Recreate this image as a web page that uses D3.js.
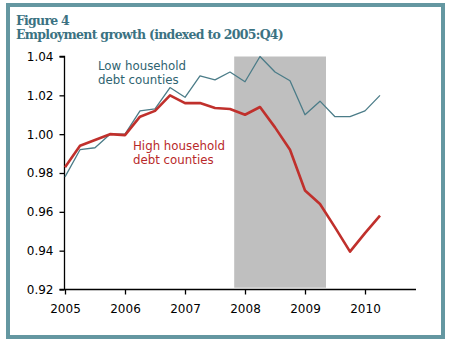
<!DOCTYPE html>
<html><head><meta charset="utf-8">
<script src="https://cdn.jsdelivr.net/npm/d3@7"></script>
<style>body{margin:0;background:#fff}svg{display:block}</style>
</head><body>
<svg id="c" width="450" height="344"></svg>
<script>
const quarters = [2005, 2005.25, 2005.5, 2005.75, 2006, 2006.25, 2006.5, 2006.75, 2007, 2007.25, 2007.5, 2007.75,
  2008, 2008.25, 2008.5, 2008.75, 2009, 2009.25, 2009.5, 2009.75, 2010, 2010.25];
const lowDebt = [0.978, 0.992, 0.993, 1.000, 1.000, 1.012, 1.013, 1.024, 1.019, 1.030, 1.028, 1.032,
  1.027, 1.040, 1.032, 1.0275, 1.010, 1.017, 1.009, 1.009, 1.012, 1.020];
const highDebt = [0.983, 0.994, 0.997, 1.000, 0.9995, 1.009, 1.012, 1.020, 1.016, 1.016, 1.0135, 1.013,
  1.010, 1.014, 1.0035, 0.992, 0.971, 0.964, 0.952, 0.9395, 0.949, 0.958];
const recession = [2007.82, 2009.35];
const yTicks = [0.92, 0.94, 0.96, 0.98, 1.00, 1.02, 1.04];
const xTicks = [2005, 2006, 2007, 2008, 2009, 2010];
const titleLines = ["Figure 4", "Employment growth (indexed to 2005:Q4)"];
const seriesLabels = {low: ["Low household", "debt counties"], high: ["High household", "debt counties"]};

const svg = d3.select("#c");
const x = d3.scaleLinear().domain([2005, 2010.85]).range([65, 416]);
const y = d3.scaleLinear().domain([0.92, 1.04]).range([289.5, 56.5]);

// frame
svg.append("rect").attr("x", 8).attr("y", 5).attr("width", 435).attr("height", 332)
  .attr("fill", "#fff").attr("stroke", "#6497a1").attr("stroke-width", 4);

// title
const tcol = "#3b7282";
const t1 = svg.append("text").attr("x", 16).attr("y", 25).text(titleLines[0])
  .attr("font-family", "DejaVu Serif").attr("font-weight", "bold").attr("font-size", 12.5).attr("fill", tcol);
const t2 = svg.append("text").attr("x", 16).attr("y", 39).text(titleLines[1])
  .attr("font-family", "DejaVu Serif").attr("font-weight", "bold").attr("font-size", 12.5).attr("fill", tcol);
function fit(sel, w) {
  const n = sel.text().length;
  const l = sel.node().getComputedTextLength();
  sel.attr("letter-spacing", (w - l) / n);
}
fit(t1, 53); fit(t2, 267);

// recession shading
svg.append("rect").attr("x", x(recession[0])).attr("width", x(recession[1]) - x(recession[0]))
  .attr("y", y(1.04)).attr("height", y(0.92) - y(1.04) - 1.8).attr("fill", "#bfbfbf");

// axes
const yAxis = svg.append("g").attr("transform", "translate(64.5,0)")
  .call(d3.axisLeft(y).tickValues(yTicks).tickFormat(d3.format(".2f")).tickSize(5).tickPadding(6));
const xAxis = svg.append("g").attr("transform", "translate(0,289.5)")
  .call(d3.axisBottom(x).tickValues(xTicks).tickFormat(d3.format("d")).tickSize(5).tickPadding(10));
[yAxis, xAxis].forEach(g => {
  g.select(".domain").attr("stroke", "#000").attr("stroke-width", 1.3);
  g.selectAll(".tick line").attr("stroke", "#000").attr("stroke-width", 1.3);
  g.selectAll(".tick text").attr("font-family", "DejaVu Sans").attr("font-size", 12).attr("fill", "#000");
});
yAxis.select(".domain").attr("d", `M-5,${y(0.92)}H0V${y(1.04)}H-5`);
xAxis.select(".domain").attr("d", `M${x(2005)},0H416`);

// lines
const line = d3.line().x((d, i) => x(quarters[i])).y(d => y(d));
svg.append("path").datum(lowDebt).attr("d", line).attr("fill", "none")
  .attr("stroke", "#4b7c88").attr("stroke-width", 1.3).attr("stroke-linejoin", "round");
svg.append("path").datum(highDebt).attr("d", line).attr("fill", "none")
  .attr("stroke", "#c0302c").attr("stroke-width", 2.6).attr("stroke-linejoin", "round");

// series labels
const lowT = svg.append("text").attr("font-family", "DejaVu Sans").attr("font-size", 11.8).attr("fill", "#2f6370");
seriesLabels.low.forEach((s, i) => lowT.append("tspan").attr("x", 98).attr("y", 70 + i * 13.5).text(s));
const highT = svg.append("text").attr("font-family", "DejaVu Sans").attr("font-size", 11.8).attr("fill", "#b8292a");
seriesLabels.high.forEach((s, i) => highT.append("tspan").attr("x", 133).attr("y", 150 + i * 13.5).text(s));
</script>
</body></html>
